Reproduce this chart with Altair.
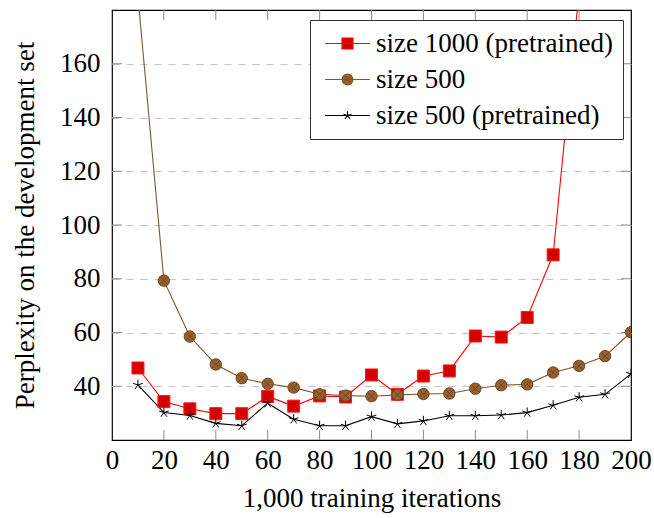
import altair as alt
import pandas as pd

# ---------------- data ----------------
iterations = [10, 20, 30, 40, 50, 60, 70, 80, 90, 100,
              110, 120, 130, 140, 150, 160, 170, 180, 190, 200]
series_names = ["size 1000 (pretrained)", "size 500", "size 500 (pretrained)"]

ppl_1000_pretrained = [46.8, 34.3, 31.6, 29.8, 29.8, 36.2, 32.6, 36.4, 36.0, 44.2,
                       37.0, 43.8, 45.7, 58.7, 58.3, 65.6, 88.9, 187.0, None, None]
ppl_500 = [185.0, 79.3, 58.5, 48.1, 43.0, 40.9, 39.5, 37.0, 36.5, 36.3,
           36.8, 37.1, 37.3, 39.1, 40.4, 40.7, 45.1, 47.6, 51.2, 60.1]
ppl_500_pretrained = [40.5, 30.2, 29.1, 26.2, 25.3, 33.7, 27.7, 25.3, 25.3, 28.7,
                      26.0, 27.1, 29.0, 29.0, 29.3, 30.2, 32.9, 35.9, 37.0, 44.6]

x_tick_values = [0, 20, 40, 60, 80, 100, 120, 140, 160, 180, 200]
y_tick_values = [40, 60, 80, 100, 120, 140, 160]
x_inner_ticks = [20, 40, 60, 80, 100, 120, 140, 160, 180]
y_inner_ticks = [40, 60, 80, 100, 120, 140, 160]

rows = []
for name, vals in zip(series_names, [ppl_1000_pretrained, ppl_500, ppl_500_pretrained]):
    for it, v in zip(iterations, vals):
        if v is not None:
            rows.append({"iter": it, "ppl": v, "series": name})
df = pd.DataFrame(rows)

# ---------------- styling ----------------
W, H = 519, 430
FONT = "Liberation Serif, DejaVu Serif, serif"
FS = 27

line_colors = ["#ff0000", "#80552b", "#000000"]
marker_fill = ["#d40000", "#98602f", "transparent"]
marker_stroke = ["#ff1a1a", "#6e4622", "#000000"]

square = "M-1,-1H1V1H-1Z"
otimes = ("M-0.95,0A0.95,0.95 0 1,0 0.95,0A0.95,0.95 0 1,0 -0.95,0Z"
          "M-0.67,-0.67L0.67,0.67M-0.67,0.67L0.67,-0.67")
star = ("M0,0L0,-0.85M0,0L0.81,-0.26M0,0L0.5,0.69"
        "M0,0L-0.5,0.69M0,0L-0.81,-0.26")
marker_paths = [square, otimes, star]

# legend symbols (symbol size 256 -> 1 unit = 8 px): line with marker on it
leg_square = "M-2.8,0H2.8M-0.69,-0.69H0.69V0.69H-0.69Z"
leg_otimes = ("M-2.8,0H2.8M-0.68,0A0.68,0.68 0 1,0 0.68,0A0.68,0.68 0 1,0 -0.68,0Z"
              "M-0.48,-0.48L0.48,0.48M-0.48,0.48L0.48,-0.48")
leg_star = ("M-2.8,0H2.8M0,0L0,-0.53M0,0L0.5,-0.16M0,0L0.31,0.43"
            "M0,0L-0.31,0.43M0,0L-0.5,-0.16")
legend_paths = [leg_square, leg_otimes, leg_star]


def X():
    return alt.X(
        "iter:Q",
        scale=alt.Scale(domain=[0, 200], nice=False, zero=False),
        axis=alt.Axis(values=x_tick_values, grid=False, ticks=False, tickSize=0,
                      domain=False, labelPadding=7, titlePadding=12,
                      labelFlush=False),
        title="1,000 training iterations",
    )


def Y():
    return alt.Y(
        "ppl:Q",
        scale=alt.Scale(domain=[20, 180], nice=False, zero=False),
        axis=alt.Axis(values=y_tick_values, grid=True, gridDash=[7, 7],
                      gridColor="#c4c4c4", gridWidth=1, ticks=False, tickSize=0,
                      domain=False, labelPadding=12, titlePadding=20),
        title="Perplexity on the development set",
    )


lines = alt.Chart(df).mark_line(clip=True, strokeWidth=1.1).encode(
    x=X(), y=Y(),
    stroke=alt.Stroke("series:N",
                      scale=alt.Scale(domain=series_names, range=line_colors),
                      legend=None),
)

points = alt.Chart(df).mark_point(clip=True, filled=True, opacity=1, size=144,
                                  strokeWidth=1).encode(
    x=X(), y=Y(),
    shape=alt.Shape("series:N",
                    scale=alt.Scale(domain=series_names, range=marker_paths),
                    legend=None),
    fill=alt.Fill("series:N",
                  scale=alt.Scale(domain=series_names, range=marker_fill),
                  legend=None),
    stroke=alt.Stroke("series:N",
                      scale=alt.Scale(domain=series_names, range=marker_stroke),
                      legend=None),
)

leg = alt.Legend(
    title=None, orient="none", legendX=198, legendY=10,
    symbolSize=256, symbolStrokeWidth=1.1, symbolOffset=14,
    labelFont=FONT, labelFontSize=FS,
    labelColor="black", labelOffset=15, labelLimit=0, padding=10,
    strokeColor="#333333", fillColor="white", rowPadding=8,
)

legend_layer = alt.Chart(df).transform_filter("datum.iter < 0").mark_point(
    filled=True, opacity=1, strokeWidth=1.1).encode(
    x=X(), y=Y(),
    shape=alt.Shape("series:N",
                    scale=alt.Scale(domain=series_names, range=legend_paths),
                    legend=leg),
    fill=alt.Fill("series:N",
                  scale=alt.Scale(domain=series_names, range=marker_fill),
                  legend=leg),
    stroke=alt.Stroke("series:N",
                      scale=alt.Scale(domain=series_names, range=line_colors),
                      legend=leg),
)

xt = pd.DataFrame({"iter": x_inner_ticks})
yt = pd.DataFrame({"ppl": y_inner_ticks})
tick_col = "#8a8a8a"
ticks_bottom = alt.Chart(xt).mark_rule(color=tick_col, strokeWidth=1).encode(
    x=X(), y=alt.value(H), y2=alt.value(H - 10))
ticks_top = alt.Chart(xt).mark_rule(color=tick_col, strokeWidth=1).encode(
    x=X(), y=alt.value(0), y2=alt.value(10))
ticks_left = alt.Chart(yt).mark_rule(color=tick_col, strokeWidth=1).encode(
    y=Y(), x=alt.value(0), x2=alt.value(10))
ticks_right = alt.Chart(yt).mark_rule(color=tick_col, strokeWidth=1).encode(
    y=Y(), x=alt.value(W - 10), x2=alt.value(W))

chart = alt.layer(
    ticks_bottom, ticks_top, ticks_left, ticks_right,
    lines, points, legend_layer,
).resolve_scale(
    shape="independent", fill="independent", stroke="independent"
).properties(
    width=W, height=H,
    autosize=alt.AutoSizeParams(type="none"),
    padding={"left": 112, "top": 10, "right": 23, "bottom": 78},
    background="white",
).configure_view(
    stroke="black", strokeWidth=1.2
).configure_axis(
    labelFont=FONT, labelFontSize=FS, labelColor="black",
    titleFont=FONT, titleFontSize=FS, titleColor="black",
    titleFontWeight="normal",
)

chart.save("out.html", embed_options={"renderer": "svg", "actions": False})
